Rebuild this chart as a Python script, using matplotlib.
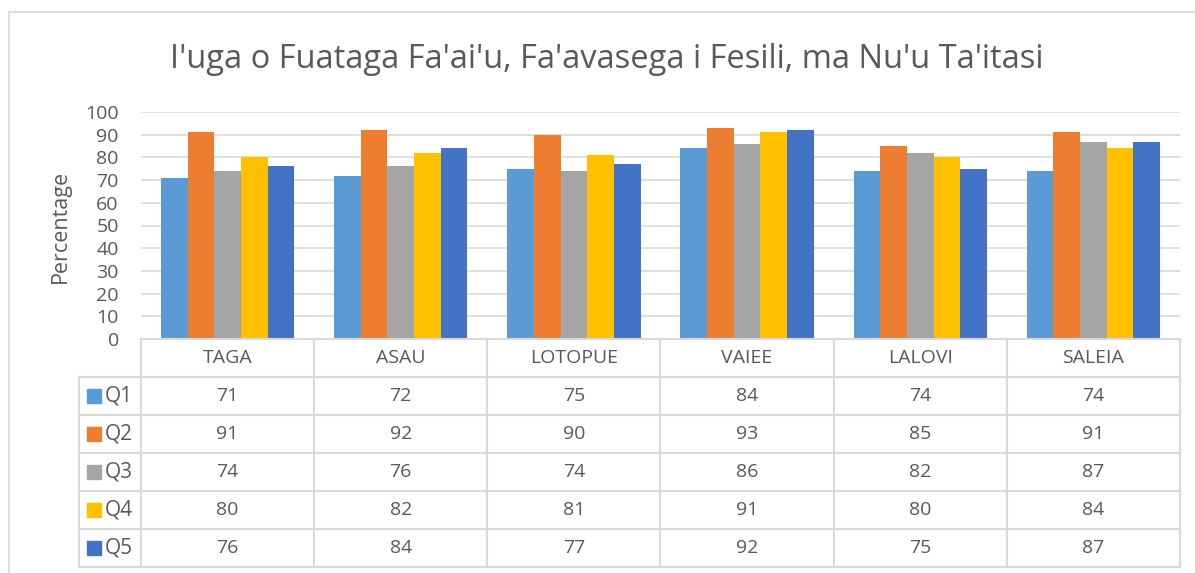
import matplotlib
matplotlib.use("Agg")
import matplotlib.pyplot as plt
from matplotlib.lines import Line2D
from matplotlib.patches import Rectangle

# ---- data ----
title = "I'uga o Fuataga Fa'ai'u, Fa'avasega i Fesili, ma Nu'u Ta'itasi"
categories = ["TAGA", "ASAU", "LOTOPUE", "VAIEE", "LALOVI", "SALEIA"]
series_names = ["Q1", "Q2", "Q3", "Q4", "Q5"]
q1 = [71, 72, 75, 84, 74, 74]
q2 = [91, 92, 90, 93, 85, 91]
q3 = [74, 76, 74, 86, 82, 87]
q4 = [80, 82, 81, 91, 80, 84]
q5 = [76, 84, 77, 92, 75, 87]
series_values = [q1, q2, q3, q4, q5]
colors = ["#5B9BD5", "#ED7D31", "#A5A5A5", "#FFC000", "#4472C4"]
yticks = [0, 10, 20, 30, 40, 50, 60, 70, 80, 90, 100]
ylabel = "Percentage"

plt.rcParams['font.family'] = ['Open Sans', 'DejaVu Sans']
TXT = "#595959"
GRID = "#D9D9D9"

W, H = 1195, 573
fig = plt.figure(figsize=(W / 100, H / 100), dpi=100)


def fx(x):
    return x / W


def fy(y):
    return 1 - y / H


# chart area border
fig.add_artist(Rectangle((fx(8.5), fy(700)), fx(1300), fy(12) - fy(700),
                         transform=fig.transFigure, fill=False,
                         edgecolor=GRID, linewidth=1.2))

# plot area
L, R, T, B = 141, 1180, 112, 339
ax = fig.add_axes([fx(L), fy(B), fx(R - L), fy(T) - fy(B)])
n = len(categories)
ns = len(series_names)
group_w = 0.77
bw = group_w / ns
for j, (vals, c) in enumerate(zip(series_values, colors)):
    xs = [i - group_w / 2 + bw * (j + 0.5) for i in range(n)]
    ax.bar(xs, vals, width=bw, color=c, zorder=3)
ax.set_xlim(-0.5, n - 0.5)
ax.set_ylim(0, 100)
ax.set_yticks(yticks)
ax.set_yticklabels([str(t) for t in yticks], color=TXT, fontsize=14)
ax.tick_params(axis='y', length=0, pad=16)
ax.set_xticks([])
ax.grid(axis='y', color=GRID, linewidth=1.2, zorder=0)
for s in ax.spines.values():
    s.set_visible(False)

fig.text(fx(60), fy(226), ylabel, rotation=90, ha='center', va='center',
         color=TXT, fontsize=15.5)

fig.text(fx(607), fy(59), title, ha='center', va='center',
         fontsize=23.5, color=TXT)

# ---- data table ----
fig.canvas.draw()
to_px = lambda x: ax.transData.transform((x, 0))[0]
row_h = 38
head_top = B
rows_top = B + row_h
bottom = rows_top + row_h * ns
leg_left = 79

lw = 1.5


def hline(x0, x1, y):
    fig.add_artist(Line2D([fx(x0), fx(x1)], [fy(y), fy(y)],
                          transform=fig.transFigure, color=GRID, linewidth=lw))


def vline(x, y0, y1):
    fig.add_artist(Line2D([fx(x), fx(x)], [fy(y0), fy(y1)],
                          transform=fig.transFigure, color=GRID, linewidth=lw))


hline(L, R, head_top)
for k in range(ns + 1):
    hline(leg_left, R, rows_top + k * row_h)
vline(leg_left, rows_top, bottom)
for i in range(n + 1):
    xb = to_px(i - 0.5)
    vline(xb, head_top, bottom)

for i, cat in enumerate(categories):
    xc = to_px(i)
    fig.text(fx(xc), fy(head_top + row_h / 2), cat, ha='center', va='center',
             fontsize=14, color=TXT)
    for j in range(ns):
        fig.text(fx(xc), fy(rows_top + row_h * (j + 0.5)),
                 str(series_values[j][i]), ha='center', va='center',
                 fontsize=14, color=TXT)

for j, (name, c) in enumerate(zip(series_names, colors)):
    yc = rows_top + row_h * (j + 0.5)
    fig.add_artist(Rectangle((fx(87), fy(yc + 7)), fx(14), fy(yc - 7) - fy(yc + 7),
                             transform=fig.transFigure, color=c))
    fig.text(fx(105), fy(yc), name, ha='left', va='center',
             fontsize=15, color=TXT)

fig.savefig("out.png", dpi=100)
